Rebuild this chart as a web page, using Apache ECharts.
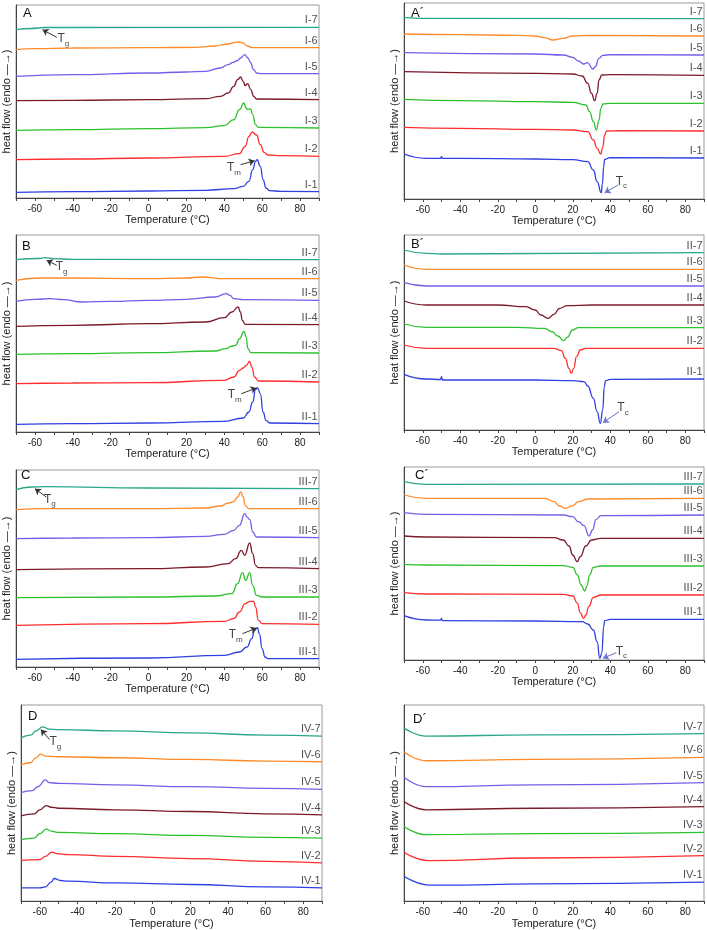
<!DOCTYPE html>
<html><head><meta charset="utf-8">
<script src="https://cdn.jsdelivr.net/npm/echarts@6/dist/echarts.min.js"></script>
<style>html,body{margin:0;padding:0;background:#fff}#c{width:707px;height:930px}</style>
</head><body><div id="c"></div>
<script>
// ---- tick labels / names ----
const namesI = ['I-1','I-2','I-3','I-4','I-5','I-6','I-7'];
const namesII = ['II-1','II-2','II-3','II-4','II-5','II-6','II-7'];
const namesIII = ['III-1','III-2','III-3','III-4','III-5','III-6','III-7'];
const namesIV = ['IV-1','IV-2','IV-3','IV-4','IV-5','IV-6','IV-7'];
const xTickValues = [-60,-40,-20,0,20,40,60,80];

// ---- curves: [temperature °C, offset heat flow (a.u.)], curve 1..7 ----
const panelA = [
 [[-70,5.7],[-40,6.3],[0,7],[30,7.7],[45,9.3],[50,11.7],[53,16.7],[55,28.3],[56.5,36.7],[57.3,38.3],[59,31.7],[60.5,18.3],[62,10],[64,7.3],[70,6.7],[90,6.3]],
 [[-70,38.3],[-40,39],[0,40],[40,41.7],[48,44.3],[51,51.7],[53,61.7],[54.7,66],[57,63],[59,53.3],[61,45.7],[63,43],[70,42.3],[90,41.7]],
 [[-70,67.7],[-40,68.3],[0,69.3],[30,70.3],[40,72.3],[45,78.3],[48,88.3],[50.3,95],[51.5,90],[52.3,88.3],[53.8,89.3],[55,83.3],[56.5,73.3],[58,70.7],[90,70]],
 [[-70,97.3],[-40,97.7],[0,98.3],[30,99.3],[38,101.7],[42,105],[45,111.7],[47,118.3],[48.6,121],[50,116.7],[51,112.3],[52.3,114.3],[54,108.3],[55.5,101.7],[57,99],[90,98.3]],
 [[-70,121.7],[-40,123.3],[0,125],[20,126],[30,126.7],[38,130],[42,133.3],[44.6,135.7],[47,137.5],[48.5,140],[50.8,143.3],[52.5,140],[53.8,135.7],[55.5,128.3],[57,125],[60,124.3],[90,124.3]],
 [[-70,148.3],[-60,149.3],[-40,150],[0,150.3],[25,150.7],[35,152],[42,154],[46,155.7],[48,156],[50,155],[52,152],[55,150.3],[90,150.3]],
 [[-70,168.3],[-62,169.5],[-55,170.5],[90,170.7]]
];
const panelAp = [
 [[-70,45],[-58,40.7],[-50.5,40.7],[-50,42.3],[-49.5,40.7],[-40,40.7],[0,40],[20,39.3],[28,37.3],[31,29],[33,17.3],[35.2,6.3],[35.8,15],[36.5,32.3],[37,39.7],[40,41.3],[90,41]],
 [[-70,71.7],[-40,70.7],[0,69.7],[20,69],[28,67.3],[31,59],[33,50.7],[34.9,45],[36,51.7],[37,64],[38,68],[45,68.3],[90,68]],
 [[-70,99.7],[-40,98.3],[0,97.3],[20,96.7],[27,94],[29,87.3],[31,77.3],[32.6,69],[34,79],[35,90.7],[36,95],[40,95.7],[90,95.7]],
 [[-70,127.3],[0,125.7],[20,125],[25,123],[28,115.7],[30,105.7],[31.7,98.3],[33,105.7],[34,119],[35.5,124],[40,124.3],[90,123.7]],
 [[-70,146.3],[0,145],[15,144],[20,141.7],[23,138],[25.8,135],[27.8,136.3],[30.8,130],[32,132.3],[34,140.7],[36,143.7],[40,144.3],[90,144]],
 [[-70,165],[-40,164.3],[-10,163.7],[0,163],[5,161.3],[9.5,159],[15,160.7],[20,163],[30,163.7],[90,163]],
 [[-70,181.7],[-60,180.7],[90,180.3]]
];
const panelB = [
 [[-70,7.7],[-40,8.3],[0,9],[40,10.7],[50,14],[53,20],[55,30],[56.5,42.3],[57.5,44.3],[59,38.3],[60.5,20],[62,11.7],[64,9],[90,8.3]],
 [[-70,48.3],[-40,49],[0,49.3],[40,51.7],[45,55],[48,61.7],[50,64],[51.5,66.5],[53.4,70.7],[54.5,65],[56,55],[58,51],[90,50]],
 [[-70,77.7],[-40,78.3],[0,79.3],[35,81],[41,83.3],[43.5,85.7],[46,86.7],[48,93.3],[50.4,100.7],[51.5,95],[52.5,83.3],[54,79.3],[90,79]],
 [[-70,105.7],[-40,106.7],[0,108.3],[30,110],[40,114.3],[44,120],[47.3,125],[48.5,120],[49.5,111.7],[51,107.7],[90,107.3]],
 [[-70,130.7],[-60,132.7],[-52,133.3],[-45,132.3],[-35,130],[-20,130.7],[0,131.7],[20,132.7],[35,135],[41.1,138.3],[43,136.7],[45,133.3],[50,132.3],[90,131.7]],
 [[-70,151.7],[-57,154],[-40,154],[0,153.3],[20,154],[28,155],[40,153.3],[90,153.3]],
 [[-70,172.3],[-58,173.5],[-54.7,174.3],[-50,173.3],[-40,172.7],[90,172.3]]
];
const panelBp = [
 [[-70,55.7],[-58,51],[-50.5,50.5],[-50,53.3],[-49.5,50],[0,50],[20,49.3],[26,48.3],[28,44],[31,31.7],[33,18.3],[34.7,6.7],[36,20],[36.8,43.3],[37.5,49.3],[40,50.7],[90,51]],
 [[-70,85],[-58,81.7],[10,81.7],[14,79.3],[16,71.7],[18,61.7],[19.2,56.7],[20.5,61.7],[22,73.3],[24,80],[27,81.7],[90,81.7]],
 [[-70,106],[-58,102.7],[-10,102.7],[5,101.7],[9,98.3],[12,94],[15.2,89.3],[17,92.7],[20,100],[23,102.3],[90,102.3]],
 [[-70,129],[-58,125],[-20,125],[-5,123.3],[0,120],[3,115],[6.8,111.7],[10,115.7],[13,121.7],[17,124.3],[30,125],[90,125]],
 [[-70,147.3],[-58,144],[90,144]],
 [[-70,165],[-58,160.7],[90,160.7]],
 [[-70,180],[-58,176.7],[-50,176],[90,177.3]]
];
const panelC = [
 [[-70,7.7],[0,9],[40,11.7],[48,15],[52,20],[54.5,28.3],[56,36.7],[57.5,39.3],[58.5,33.3],[60,18.3],[61.5,10],[63,8.3],[90,8.3]],
 [[-70,41.7],[0,43.3],[40,45.7],[45,48.3],[48,55],[51,63.3],[53.5,65.7],[55.5,65.7],[56.5,60],[58,46.7],[60,43.3],[90,42.7]],
 [[-70,69.3],[0,70],[35,71],[44,73.3],[47,83.3],[49.6,94.3],[51.3,86.7],[53.4,94.3],[55,81.7],[57,71.7],[60,70],[90,70]],
 [[-70,97.3],[0,98.3],[30,100],[42,103.3],[46,108.3],[49,116.7],[50.8,111.7],[53.4,124],[55,113.3],[56.5,101.7],[58,99.3],[90,98.3]],
 [[-70,128.3],[-40,129],[0,129.3],[30,130.7],[40,132.7],[45,136.7],[48,141.7],[50.8,153.3],[52.3,149.3],[53.5,147.3],[55,135],[57,130],[90,129.3]],
 [[-70,157.3],[-55,158.3],[0,158.3],[30,159],[38,161],[42,164],[45,165.3],[47,170],[48.7,175],[50,170],[51,161.7],[53,158.3],[90,158.3]],
 [[-70,177.3],[-62,180],[-55,180.3],[0,179],[90,178.3]]
];
const panelCp = [
 [[-70,44.3],[-58,40],[-50.5,39.8],[-50,41.7],[-49.5,39.3],[0,39],[25,38.3],[28,36],[31,30],[33,18.3],[34.4,1.7],[35.5,6.7],[36.5,33.3],[37,39.3],[40,40.7],[90,40.7]],
 [[-70,67.3],[-58,66],[15,65.7],[20,64],[22.5,56.7],[24,47.3],[25.8,41.7],[27,45],[28.5,53.3],[31,62.7],[35,65],[90,65]],
 [[-70,95.7],[-58,95],[15,94.3],[20,92.7],[22.5,85],[24.5,75],[26.4,69],[27.5,74],[29,85],[31,92.7],[35,94],[90,94]],
 [[-70,124],[-58,123],[10,122.3],[15,120],[18,114],[20,105],[22.4,98.3],[24,103.3],[27,114],[30,120],[35,121.7],[90,121.7]],
 [[-70,147.3],[-58,145.7],[15,145],[20,143.3],[23,138.3],[26,134.3],[28.7,124],[30.5,130],[32.5,140.7],[35,144.3],[90,145]],
 [[-70,165],[-58,161.7],[5,161.7],[10,158.3],[13,154],[16.2,151.7],[20,154.3],[23,158.3],[28,161],[90,161.7]],
 [[-70,178.3],[-58,175.7],[90,176]]
];
const panelD = [
 [[-70,13.3],[-60,13.3],[-57,14.3],[-54,19],[-52.3,22.7],[-49,20.7],[-45,20],[-20,18.3],[20,16.7],[60,14.3],[90,13.3]],
 [[-70,41],[-60,41.7],[-57,45],[-53.5,49.3],[-51,47.7],[-45,46.7],[-20,45],[20,42.7],[60,40],[90,38.3]],
 [[-70,61.7],[-63,63.3],[-60,67.7],[-56.5,72.3],[-54,70.3],[-50,69],[-20,67.7],[20,66],[60,64],[90,63.3]],
 [[-70,85.7],[-63,87.7],[-60,91.7],[-56.5,96],[-54,94.3],[-50,93.3],[-20,91.7],[20,90],[60,87.7],[90,86.7]],
 [[-70,109],[-64,111],[-61,115],[-57,121.7],[-55,119],[-50,118.3],[-20,116.7],[20,115],[60,113.3],[90,112.3]],
 [[-70,136.7],[-65,139],[-62,144],[-59.7,147.7],[-57,145.7],[-50,145],[-20,144],[20,142.3],[60,140.7],[90,140]],
 [[-70,164],[-65,166.7],[-62,171],[-58.5,175],[-55,172.7],[-50,172.3],[-20,171],[20,169],[60,166.7],[90,165.7]]
];
const panelDp = [
 [[-70,25],[-56,16],[-50,16],[0,17.3],[90,19]],
 [[-70,49],[-57,40.7],[0,43.3],[90,45.7]],
 [[-70,75],[-58,66.7],[0,67.7],[90,69]],
 [[-70,100],[-58,91.7],[0,93.3],[90,95]],
 [[-70,124.3],[-58,115],[0,116.7],[90,119]],
 [[-70,150],[-58,141],[0,142.3],[90,144.3]],
 [[-70,174],[-58,165.7],[0,167],[90,168.3]]
];

// ---- annotations (T_g / T_m / T_c): text anchor and arrow, in data units ----
const annA  = [{sub:'g', at:[-45,159], from:[-48.5,160.7], to:[-56,168.3]}, {sub:'m', at:[45.1,30], from:[48.6,33.3], to:[56,37.3]}];
const annAp = [{sub:'c', at:[45.9,17.3], from:[44.2,14], to:[37,6.3]}];
const annB  = [{sub:'g', at:[-45.9,165], from:[-48.5,166.7], to:[-53.8,171.7]}, {sub:'m', at:[45.5,36.7], from:[49,38.3], to:[57,44]}];
const annBp = [{sub:'c', at:[46.8,21.7], from:[44.7,18.3], to:[36.1,7.3]}];
const annC  = [{sub:'g', at:[-52.1,167.3], from:[-54,170], to:[-60,178.3]}, {sub:'m', at:[46,31.7], from:[49.6,33.3], to:[57,39]}];
const annCp = [{sub:'c', at:[45.9,8.3], from:[43.2,7.3], to:[36.1,1.7]}];
const annD  = [{sub:'g', at:[-51.7,160], from:[-54.8,162.3], to:[-59.4,172.3]}];
const annDp = [];

const colors = ['#2f3fe0','#ff2d2d','#2ec12e','#7b1a2a','#7060e8','#ff8a2a','#2aa78a'];
const FONT = 'Liberation Sans, Arial, sans-serif';

const panels = [
 {letter:'A',  curves:panelA,  names:namesI,   ann:annA,  grid:{left:16, top:5,   width:303, height:193}, ymax:193, lp:[23,7]},
 {letter:'A\u00b4', curves:panelAp, names:namesI,   ann:annAp, grid:{left:404,top:3,   width:300, height:196}, ymax:196, lp:[411,7]},
 {letter:'B',  curves:panelB,  names:namesII,  ann:annB,  grid:{left:16, top:235, width:303, height:197}, ymax:197, lp:[22,240]},
 {letter:'B\u00b4', curves:panelBp, names:namesII,  ann:annBp, grid:{left:404,top:235, width:300, height:195}, ymax:195, lp:[411,238]},
 {letter:'C',  curves:panelC,  names:namesIII, ann:annC,  grid:{left:16, top:470, width:303, height:197}, ymax:197, lp:[21,469]},
 {letter:'C\u00b4', curves:panelCp, names:namesIII, ann:annCp, grid:{left:404,top:467, width:300, height:193}, ymax:193, lp:[415,469]},
 {letter:'D',  curves:panelD,  names:namesIV,  ann:annD,  grid:{left:21, top:705, width:301, height:197}, ymax:197, lp:[28,710]},
 {letter:'D\u00b4', curves:panelDp, names:namesIV,  ann:annDp, grid:{left:404,top:705, width:301, height:197}, ymax:197, lp:[413,713]}
];

const grid = [], xAxis = [], yAxis = [], series = [], graphic = [];
panels.forEach((p, i) => {
  grid.push(Object.assign({show:true, borderColor:'#9a9a9a', borderWidth:1, backgroundColor:'transparent'}, p.grid));
  xAxis.push({type:'value', gridIndex:i, min:-70, max:90, interval:10,
    axisLine:{show:true, onZero:false, lineStyle:{color:'#444', width:1}},
    axisTick:{show:true, length:3, lineStyle:{color:'#444'}},
    axisLabel:{fontSize:10, color:'#222', fontFamily:FONT, margin:6,
      formatter: v => xTickValues.indexOf(v) >= 0 ? String(v) : ''},
    splitLine:{show:false},
    name:'Temperature (\u00b0C)', nameLocation:'middle', nameGap:16,
    nameTextStyle:{fontSize:11, color:'#222', fontFamily:FONT}});
  yAxis.push({type:'value', gridIndex:i, min:0, max:p.ymax,
    axisLine:{show:true, onZero:false, lineStyle:{color:'#444', width:1}},
    axisTick:{show:false}, axisLabel:{show:false}, splitLine:{show:false},
    name:'heat flow (endo \u2014\u2192)', nameLocation:'middle', nameGap:4, nameRotate:90,
    nameTextStyle:{fontSize:11, color:'#222', fontFamily:FONT}});
  p.curves.forEach((c, j) => {
    series.push({type:'line', xAxisIndex:i, yAxisIndex:i, data:c, showSymbol:false,
      smooth:0.5, smoothMonotone:'x', silent:true, animation:false,
      lineStyle:{color:colors[j], width:1.3}});
  });
  series.push({type:'scatter', xAxisIndex:i, yAxisIndex:i, silent:true, animation:false,
    symbolSize:1, itemStyle:{color:'transparent'},
    data: p.curves.map((c, j) => ({value:c[c.length-1], name:p.names[j]})),
    label:{show:true, formatter:'{b}', position:'left', distance:1, offset:[0,-7],
      fontSize:11, color:'#222', fontFamily:FONT}});
  series.push({type:'scatter', xAxisIndex:i, yAxisIndex:i, silent:true, animation:false,
    symbolSize:1, itemStyle:{color:'transparent'},
    data: p.ann.map(a => ({value:a.at, name:a.sub})),
    label:{show:true, position:'inside', formatter: prm => '{t|T}{s|' + prm.name + '}',
      rich:{t:{fontSize:12, color:'#111', fontFamily:FONT, verticalAlign:'top', lineHeight:13},
            s:{fontSize:8, color:'#111', fontFamily:FONT, verticalAlign:'top', lineHeight:8, padding:[7,0,0,0]}}},
    markLine:{silent:true, animation:false, symbol:['none','arrow'], symbolSize:6,
      label:{show:false},
      data: p.ann.map(a => [{coord:a.from, lineStyle:{color: a.sub === 'c' ? '#6677cc' : '#333', width:1, type:'solid'}, itemStyle:{color: a.sub === 'c' ? '#6677cc' : '#333'}}, {coord:a.to}])}});
  graphic.push({type:'text', left:p.lp[0], top:p.lp[1], silent:true,
    style:{text:p.letter, fontSize:13, fill:'#111', fontFamily:FONT}});
});

const chart = echarts.init(document.getElementById('c'), null, {renderer:'canvas'});
chart.setOption({animation:false, backgroundColor:'#fff', grid, xAxis, yAxis, series, graphic});
</script></body></html>
